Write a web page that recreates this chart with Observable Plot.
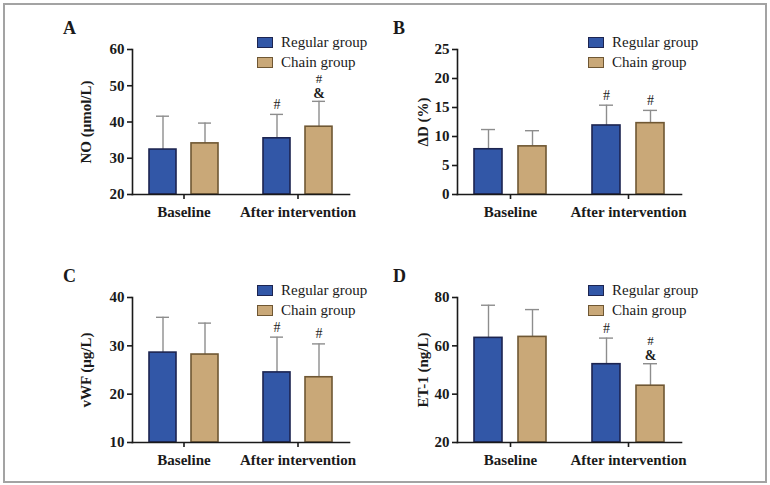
<!DOCTYPE html>
<html>
<head>
<meta charset="utf-8">
<script src="https://cdn.jsdelivr.net/npm/d3@7"></script>
<script src="https://cdn.jsdelivr.net/npm/@observablehq/plot@0.6"></script>
<style>
  html, body { margin: 0; padding: 0; background: #fff; }
  #figure { position: relative; width: 770px; height: 485px; background: #fff; overflow: hidden;
            font-family: "Liberation Serif", "Times New Roman", serif; color: #1a1a1a; }
  #border { position: absolute; left: 3px; top: 3px; width: 760px; height: 476px; border: 2px solid #a3a3a3; }
  .panel-svg { position: absolute; }
  .letter { position: absolute; font-size: 18px; font-weight: bold; line-height: 18px; }
  .legend-row { position: absolute; font-size: 15px; line-height: 16px; white-space: nowrap; }
  .swatch { position: absolute; width: 14px; height: 9px; border: 1px solid; }
</style>
</head>
<body>
<div id="figure"><div id="border"></div></div>
<script>
// Shared categories and groups
const categories = ["Baseline", "After intervention"];
const groups = ["Regular group", "Chain group"];
const groupFill = ["#3257a7", "#c9a878"];
const groupStroke = ["#1c2450", "#6f5733"];

// Panel A: NO (μmol/L), mean and SD for [Baseline, After intervention]
const noRegularMean = [32.4, 35.5];
const noRegularSd = [9.2, 6.6];
const noChainMean = [34.1, 38.7];
const noChainSd = [5.6, 7.0];
const noRegularNote = ["", "#"];
const noChainNote = ["", "#&"];
const noTicks = [20, 30, 40, 50, 60];

// Panel B: ΔD (%)
const ddRegularMean = [7.8, 11.9];
const ddRegularSd = [3.4, 3.5];
const ddChainMean = [8.3, 12.3];
const ddChainSd = [2.7, 2.2];
const ddRegularNote = ["", "#"];
const ddChainNote = ["", "#"];
const ddTicks = [0, 5, 10, 15, 20, 25];

// Panel C: vWF (μg/L)
const vwfRegularMean = [28.6, 24.5];
const vwfRegularSd = [7.3, 7.3];
const vwfChainMean = [28.2, 23.5];
const vwfChainSd = [6.5, 6.9];
const vwfRegularNote = ["", "#"];
const vwfChainNote = ["", "#"];
const vwfTicks = [10, 20, 30, 40];

// Panel D: ET-1 (ng/L)
const etRegularMean = [63.3, 52.4];
const etRegularSd = [13.5, 10.8];
const etChainMean = [63.7, 43.5];
const etChainSd = [11.3, 9.1];
const etRegularNote = ["", "#"];
const etChainNote = ["", "#&"];
const etTicks = [20, 40, 60, 80];

const panels = [
  {letter: "A", label: "NO (μmol/L)", ticks: noTicks, col: 0, row: 0,
   regMean: noRegularMean, regSd: noRegularSd, chainMean: noChainMean, chainSd: noChainSd,
   regNote: noRegularNote, chainNote: noChainNote},
  {letter: "B", label: "ΔD (%)", ticks: ddTicks, col: 1, row: 0,
   regMean: ddRegularMean, regSd: ddRegularSd, chainMean: ddChainMean, chainSd: ddChainSd,
   regNote: ddRegularNote, chainNote: ddChainNote},
  {letter: "C", label: "vWF (μg/L)", ticks: vwfTicks, col: 0, row: 1,
   regMean: vwfRegularMean, regSd: vwfRegularSd, chainMean: vwfChainMean, chainSd: vwfChainSd,
   regNote: vwfRegularNote, chainNote: vwfChainNote},
  {letter: "D", label: "ET-1 (ng/L)", ticks: etTicks, col: 1, row: 1,
   regMean: etRegularMean, regSd: etRegularSd, chainMean: etChainMean, chainSd: etChainSd,
   regNote: etRegularNote, chainNote: etChainNote}
];

// Page layout per column / row
const columns = [
  {left: 0, width: 385, marginLeft: 132, marginRight: 36, labelOffset: 52, letterX: 63, legendX: 257},
  {left: 385, width: 385, marginLeft: 72, marginRight: 88, labelOffset: 40, letterX: 393, legendX: 588}
];
const rows = [{top: 0}, {top: 248}];

const fig = document.getElementById("figure");
const font = "'Liberation Serif', 'Times New Roman', serif";

for (const p of panels) {
  const col = columns[p.col];
  const row = rows[p.row];

  const data = [];
  categories.forEach((c, i) => {
    data.push({category: c, group: groups[0], mean: p.regMean[i], sd: p.regSd[i], note: p.regNote[i]});
    data.push({category: c, group: groups[1], mean: p.chainMean[i], sd: p.chainSd[i], note: p.chainNote[i]});
  });
  const domain = [p.ticks[0], p.ticks[p.ticks.length - 1]];
  const top = d => d.mean + d.sd;

  const barMarks = groups.map((g, gi) =>
    Plot.barY(data.filter(d => d.group === g), {
      fx: "category", x: "group", y1: domain[0], y2: "mean",
      fill: groupFill[gi], stroke: groupStroke[gi], strokeWidth: 1.6
    })
  );

  const chart = Plot.plot({
    width: col.width,
    height: 240,
    marginLeft: col.marginLeft,
    marginRight: col.marginRight,
    marginTop: 49,
    marginBottom: 46,
    style: {fontFamily: font, background: "transparent", color: "#1a1a1a", overflow: "visible"},
    fx: {domain: categories, paddingInner: 0.1, paddingOuter: 0},
    x: {domain: groups, paddingInner: 0.36, paddingOuter: 0.38, axis: null},
    y: {domain},
    marks: [
      // error bars (upper SD only) with caps
      Plot.ruleX(data, {fx: "category", x: "group", y1: "mean", y2: top, stroke: "#8d8d8d", strokeWidth: 1.4}),
      Plot.tickY(data, {fx: "category", x: "group", y: top, stroke: "#8d8d8d", strokeWidth: 1.4, insetLeft: 7, insetRight: 7}),
      ...barMarks,
      // significance marks
      Plot.text(data.filter(d => d.note === "#"), {
        fx: "category", x: "group", y: top, text: () => "#", dy: -10, fontSize: 14, fill: "#1a1a1a"
      }),
      Plot.text(data.filter(d => d.note === "#&"), {
        fx: "category", x: "group", y: top, text: () => "&", dy: -8, fontSize: 14, fontWeight: "bold", fill: "#1a1a1a"
      }),
      Plot.text(data.filter(d => d.note === "#&"), {
        fx: "category", x: "group", y: top, text: () => "#", dy: -23, fontSize: 13, fill: "#1a1a1a"
      }),
      // axes
      Plot.frame({anchor: "left", facet: "super", stroke: "#1a1a1a", strokeWidth: 1.6}),
      Plot.frame({anchor: "bottom", facet: "super", stroke: "#1a1a1a", strokeWidth: 1.6}),
      Plot.axisY({
        ticks: p.ticks, tickSize: 5, tickPadding: 3, strokeWidth: 1.6,
        fontSize: 15, fontWeight: "bold",
        label: p.label, labelAnchor: "center", labelOffset: col.labelOffset, labelArrow: "none"
      }),
      Plot.axisFx({
        anchor: "bottom", tickSize: 5, tickPadding: 7, strokeWidth: 1.6,
        fontSize: 15, fontWeight: "bold", label: null
      })
    ]
  });
  chart.classList.add("panel-svg");
  chart.style.left = col.left + "px";
  chart.style.top = row.top + "px";
  fig.appendChild(chart);

  // panel letter
  const letter = document.createElement("div");
  letter.className = "letter";
  letter.textContent = p.letter;
  letter.style.left = col.letterX + "px";
  letter.style.top = (row.top + 19) + "px";
  fig.appendChild(letter);

  // legend
  groups.forEach((g, gi) => {
    const sw = document.createElement("div");
    sw.className = "swatch";
    sw.style.left = col.legendX + "px";
    sw.style.top = (row.top + 37 + gi * 20) + "px";
    sw.style.background = groupFill[gi];
    sw.style.borderColor = groupStroke[gi];
    fig.appendChild(sw);
    const t = document.createElement("div");
    t.className = "legend-row";
    t.textContent = g;
    t.style.left = (col.legendX + 24) + "px";
    t.style.top = (row.top + 34 + gi * 20) + "px";
    fig.appendChild(t);
  });
}
</script>
</body>
</html>
